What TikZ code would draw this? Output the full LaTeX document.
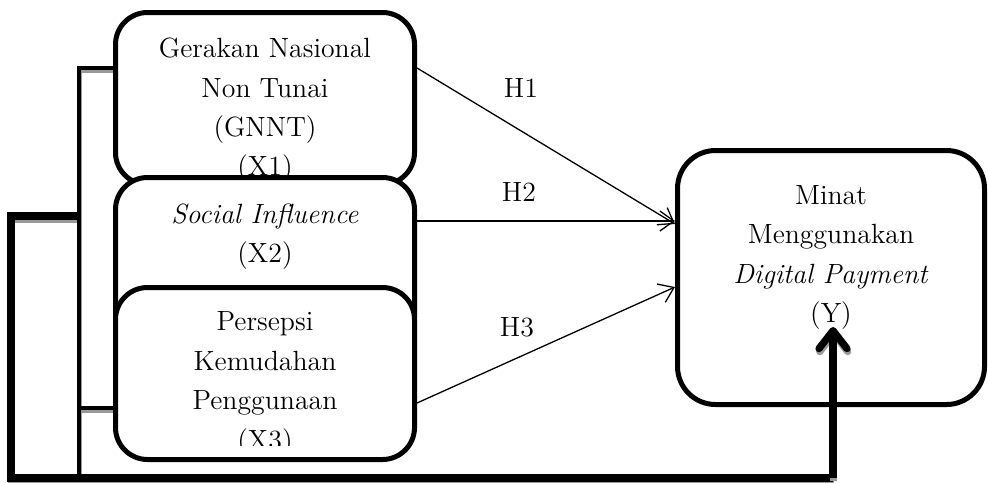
\documentclass[tikz,border=0pt]{standalone}
\usetikzlibrary{arrows.meta}

\tikzset{
  varbox/.style={draw, line width=2.5pt, fill=white, rounded corners=16pt,
    minimum width=149.5pt, minimum height=86pt, inner sep=0pt},
  depbox/.style={draw, line width=2.5pt, fill=white, rounded corners=19pt,
    minimum width=153.5pt, minimum height=127pt, inner sep=0pt},
  vartext/.style={align=center, inner sep=0pt, font=\fontsize{13.9}{19.7}\selectfont},
  hlabel/.style={inner sep=0pt, font=\fontsize{13.9}{19.7}\selectfont},
  harrow/.style={line width=0.65pt, -{Straight Barb[length=7pt, width=10pt]}},
  busthick/.style={line width=3.6pt},
  busthin/.style={line width=2pt},
  busshadow/.style={draw=black!40, transform canvas={xshift=0.35pt, yshift=-1.5pt}},
  uptip/.style={-{Straight Barb[length=9pt, width=14pt, round]}}
}

\begin{document}
\begin{tikzpicture}[x=0.5pt, y=-0.5pt]
    \useasboundingbox (0,0) rectangle (988,482);
    %
    %%% Bus lines on the left
    \coordinate (btop) at (79,68);
    \coordinate (bmid) at (79,408);
    \coordinate (bbot) at (79,478);
    \coordinate (ojoin) at (79,216);
    \coordinate (oleft) at (11,216);
    \coordinate (ocorner) at (11,478);
    \coordinate (ytip) at (833,327);
    %
    \coordinate (x1stub) at (113,68);
    \coordinate (x3stub) at (113,408);
    %
    \draw[busthin, busshadow] (x1stub) -- (btop) -- (bbot);
    \draw[busthin, busshadow] (bmid) -- (x3stub);
    \draw[busthick, busshadow] (ojoin) -- (oleft) -- (ocorner) -- (ocorner -| ytip);
    \draw[busthin] (x1stub) -- (btop) -- (bbot);
    \draw[busthin] (bmid) -- (x3stub);
    \draw[busthick] (ojoin) -- (oleft) -- (ocorner) -- (ocorner -| ytip);
    %
    %%% Independent variables
    \node[varbox] (x1) at (265,98.5) {};
    \node[vartext] (x1txt) at (265,110.5) {Gerakan Nasional\\Non Tunai\\(GNNT)\\(X1)};
    %
    \node[varbox] (x2) at (265,263.5) {};
    \node[vartext] (x2txt) at (265,236.5) {\textit{Social Influence}\\(X2)};
    %
    \node[varbox] (x3) at (265,373.5) {};
    \begin{scope}
        \clip (113,285) rectangle (417,445);
        \node[vartext] (x3txt) at (265,384) {Persepsi\\Kemudahan\\Penggunaan\\(X3)};
    \end{scope}
    %
    %%% Dependent variable
    \node[depbox] (y) at (831,277.5) {};
    \node[vartext] (ytxt) at (831,257.5) {Minat\\Menggunakan\\\textit{Digital Payment}\\(Y)};
    %
    \draw[busthick, uptip, busshadow] (ocorner -| ytip) -- (ytip);
    \draw[busthick, uptip] (ocorner -| ytip) -- (ytip);
    %
    %%% Hypotheses
    \draw[harrow] ([yshift=15.25pt]x1.east) -- ([yshift=26.75pt]y.west);
    \draw[harrow] ([yshift=21.25pt]x2.east) -- ([yshift=28.25pt]y.west);
    \draw[harrow] ([yshift=-14.75pt]x3.east) -- ([yshift=-4.75pt]y.west);
    %
    \node[hlabel] (h1) at (521,88) {H1};
    \node[hlabel] (h2) at (519,192) {H2};
    \node[hlabel] (h3) at (517,327) {H3};
\end{tikzpicture}
\end{document}
